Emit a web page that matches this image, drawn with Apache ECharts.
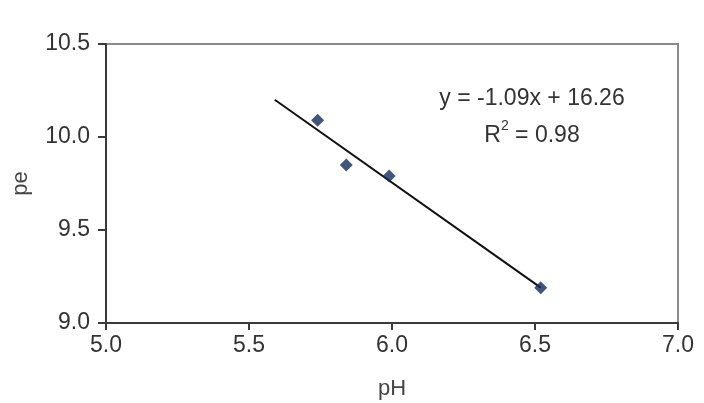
<!DOCTYPE html>
<html>
<head>
<meta charset="utf-8">
<script src="https://cdn.jsdelivr.net/npm/echarts@6/dist/echarts.min.js"></script>
<style>html,body{margin:0;padding:0;background:#fff}#c{width:704px;height:403px}</style>
</head>
<body>
<div id="c"></div>
<script>
// data
const pH = [5.74, 5.84, 5.99, 6.52];
const pe = [10.09, 9.85, 9.79, 9.19];
const trendX = [5.59, 6.52];
const trendY = [10.20, 9.19];
const xTicks = [5.0, 5.5, 6.0, 6.5, 7.0];
const yTicks = [9.0, 9.5, 10.0, 10.5];
const eqText = 'y = -1.09x + 16.26';
const r2Base = 'R';
const r2Sup = '2';
const r2Rest = ' = 0.98';

const FONT = 'Liberation Sans, Arial, sans-serif';
const chart = echarts.init(document.getElementById('c'), null, {renderer: 'canvas'});
chart.setOption({
  animation: false,
  backgroundColor: '#fff',
  grid: {left: 106, right: 26, top: 44, bottom: 80, show: true, borderColor: '#8a8a8a', borderWidth: 2, outerBoundsMode: 'none', containLabel: false},
  xAxis: {
    type: 'value', min: xTicks[0], max: xTicks[xTicks.length - 1], interval: 0.5,
    name: 'pH', nameLocation: 'middle', nameGap: 55,
    nameTextStyle: {fontFamily: FONT, fontSize: 22, color: '#444'},
    axisLine: {show: true, lineStyle: {color: '#3a3a3a', width: 2}},
    axisTick: {show: true, length: 7, lineStyle: {color: '#3a3a3a', width: 2}},
    axisLabel: {fontFamily: FONT, fontSize: 23, color: '#333', margin: 11, formatter: v => v.toFixed(1)},
    splitLine: {show: false}
  },
  yAxis: {
    type: 'value', min: yTicks[0], max: yTicks[yTicks.length - 1], interval: 0.5,
    name: 'pe', nameLocation: 'middle', nameGap: 74, nameRotate: 90,
    nameTextStyle: {fontFamily: FONT, fontSize: 22, color: '#444'},
    axisLine: {show: true, lineStyle: {color: '#3a3a3a', width: 2}},
    axisTick: {show: true, length: 8, lineStyle: {color: '#3a3a3a', width: 2}},
    axisLabel: {fontFamily: FONT, fontSize: 23, color: '#333', margin: 16, formatter: v => v.toFixed(1)},
    splitLine: {show: false}
  },
  series: [
    {
      type: 'line',
      data: trendX.map((x, i) => [x, trendY[i]]),
      showSymbol: false, symbol: 'none',
      lineStyle: {color: '#111', width: 2},
      z: 2
    },
    {
      type: 'scatter',
      data: pH.map((x, i) => [x, pe[i]]),
      symbol: 'diamond', symbolSize: 13,
      itemStyle: {color: '#132a5c'},
      z: 3
    }
  ],
  graphic: [
    {type: 'text', x: 532, y: 99, style: {text: eqText, font: '23px ' + FONT, fill: '#333', align: 'center', verticalAlign: 'middle'}},
    {type: 'text', x: 532, y: 133, style: {
      text: '{a|' + r2Base + '}{b|' + r2Sup + '}{a|' + r2Rest + '}',
      align: 'center', verticalAlign: 'middle',
      rich: {
        a: {fontFamily: FONT, fontSize: 23, fill: '#333', color: '#333', verticalAlign: 'bottom', lineHeight: 28},
        b: {fontFamily: FONT, fontSize: 14, fill: '#333', color: '#333', verticalAlign: 'top', lineHeight: 28}
      }
    }}
  ]
});
</script>
</body>
</html>
